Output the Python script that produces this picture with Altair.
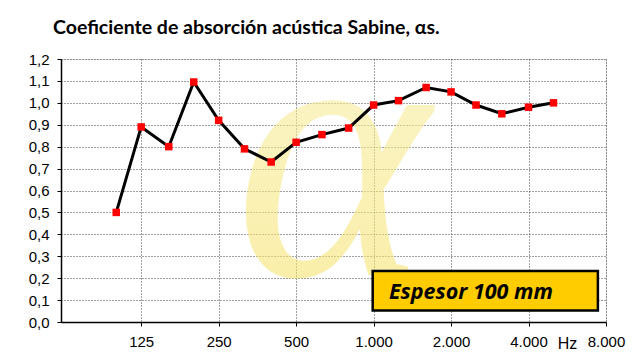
import altair as alt
import pandas as pd

freqs = [100, 125, 160, 200, 250, 315, 400, 500, 630, 800, 1000, 1250, 1600, 2000, 2500, 3150, 4000, 5000]
alpha_s = [0.50, 0.89, 0.80, 1.095, 0.92, 0.79, 0.73, 0.82, 0.855, 0.885, 0.99, 1.01, 1.07, 1.05, 0.99, 0.95, 0.98, 1.00]
x_ticks = [125, 250, 500, 1000, 2000, 4000, 8000]
y_ticks = [round(i * 0.1, 1) for i in range(13)]

title_text = "Coeficiente de absorción acústica Sabine, αs."
box_text = "Espesor 100 mm"

df = pd.DataFrame({"f": freqs, "a": alpha_s})

W, H = 545, 263

xscale = alt.Scale(type="log", domain=[61, 8000], nice=False)
yscale = alt.Scale(domain=[0, 1.2], nice=False)

xaxis = alt.Axis(
    values=x_ticks,
    labelExpr="replace(format(datum.value, ','), ',', '.')",
    labelFont="Liberation Sans", labelFontSize=15, labelColor="#000",
    labelPadding=8, tickSize=4, tickColor="#000",
    labelOverlap=False, labelFlush=False,
    domainColor="#000", domainWidth=1.5,
    grid=True, gridColor="#444", gridDash=[1, 2], gridWidth=1,
    title="Hz", titleFont="Liberation Sans", titleFontSize=16,
    titleFontWeight="normal", titleColor="#000",
    titleX=506, titleY=26, titleAlign="center", titleBaseline="alphabetic",
)
yaxis = alt.Axis(
    values=y_ticks,
    labelExpr="replace(format(datum.value, '.1f'), '.', ',')",
    labelFont="Liberation Sans", labelFontSize=15, labelColor="#000",
    labelPadding=8, tickSize=4, tickColor="#000",
    labelOverlap=False, labelFlush=False,
    domainColor="#000", domainWidth=1.5,
    grid=True, gridColor="#444", gridDash=[1, 2], gridWidth=1,
    title=None,
)


def X(field):
    return alt.X(field, scale=xscale, axis=xaxis)


def Y(field):
    return alt.Y(field, scale=yscale, axis=yaxis)


base = alt.Chart(df)

# Watermark alpha
wm_fill = alt.Gradient(
    gradient="linear", x1=0, y1=0, x2=0, y2=1,
    stops=[alt.GradientStop(color="#FAF6BC", offset=0),
           alt.GradientStop(color="#F6DE5A", offset=1)],
)
wm = alt.Chart(pd.DataFrame({"f": [689], "a": [0.215], "t": ["α"]})).mark_text(
    font="Liberation Serif", fontStyle="italic", fontSize=370, fill=wm_fill,
    opacity=0.58, align="center", baseline="alphabetic", clip=True,
).encode(x=X("f:Q"), y=Y("a:Q"), text="t:N")

line = base.mark_line(color="#000", strokeWidth=3).encode(x=X("f:Q"), y=Y("a:Q"))
pts = base.mark_square(color="#FF0000", size=56, opacity=1).encode(x=X("f:Q"), y=Y("a:Q"))

box = alt.Chart(pd.DataFrame({"x1": [992], "x2": [7440], "y1": [0.053], "y2": [0.233]})).mark_rect(
    fill="#FFCC00", stroke="#000", strokeWidth=2.5
).encode(x=X("x1:Q"), x2="x2:Q", y=Y("y1:Q"), y2="y2:Q")
boxlabel = alt.Chart(pd.DataFrame({"f": [1147], "a": [0.103], "t": [box_text]})).mark_text(
    font="Open Sans", fontStyle="italic", fontWeight="bold", fontSize=21.5, color="#000",
    align="left", baseline="alphabetic",
).encode(x=X("f:Q"), y=Y("a:Q"), text="t:N")

chart = alt.layer(wm, line, pts, box, boxlabel).properties(
    width=W, height=H,
    title=alt.TitleParams(
        title_text, anchor="start", dx=-8, offset=14, frame="group",
        font="Lato", fontSize=19.5, fontWeight="bold", color="#000",
    ),
    autosize=alt.AutoSizeParams(type="none"),
    padding={"left": 53, "top": 51, "right": 25, "bottom": 33},
).configure_view(stroke=None).configure(background="#fff")

chart.save("out.html", embed_options={"renderer": "svg", "actions": False})
